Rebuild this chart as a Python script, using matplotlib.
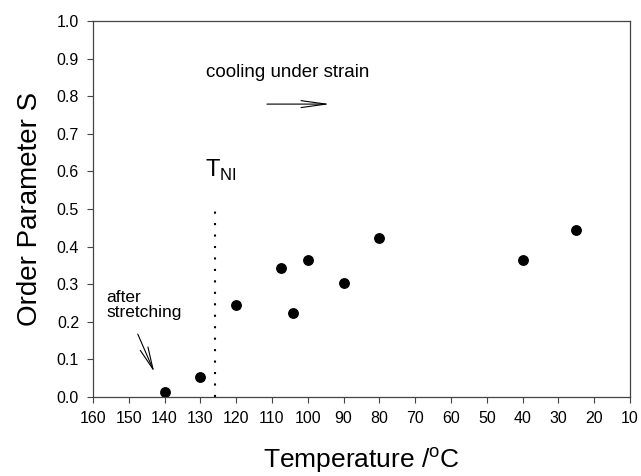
import matplotlib
matplotlib.use("Agg")
import matplotlib.pyplot as plt

plt.rcParams['font.family'] = ['Liberation Sans', 'DejaVu Sans']

temperature = [140, 130, 120, 107.5, 104, 100, 90, 80, 40, 25]
order_param = [0.013, 0.053, 0.245, 0.344, 0.224, 0.364, 0.304, 0.424, 0.364, 0.443]
t_ni = 126
x_ticks = list(range(160, 9, -10))
y_ticks = [round(0.1 * i, 1) for i in range(11)]

fig = plt.figure(figsize=(6.41, 4.76), dpi=100)
ax = fig.add_axes([93 / 641, 1 - 397 / 476, 537 / 641, 376 / 476])

ax.plot(temperature, order_param, 'o', color='black', markersize=6.8)
ax.plot([t_ni, t_ni], [0, 0.516], color='black', linestyle=(0, (1, 4.5)), linewidth=1.5)

ax.set_xlim(160, 10)
ax.set_ylim(0, 1.0)
ax.set_xticks(x_ticks)
ax.set_xticklabels([str(t) for t in x_ticks])
ax.set_yticks(y_ticks)
ax.set_yticklabels([f"{v:.1f}" for v in y_ticks])
ax.tick_params(direction='out', length=4, width=0.8, labelsize=11.5, pad=6, color='#444444')
for s in ax.spines.values():
    s.set_linewidth(0.9)
    s.set_color('#444444')

ax.set_xlabel('Temperature /$^\\mathregular{o}$C', fontsize=19, labelpad=14)
ax.set_ylabel('Order Parameter S', fontsize=20, labelpad=10)

ax.text(128.8, 0.603, r'T$_\mathregular{NI}$', fontsize=17, ha='left', va='center')
ax.text(128.5, 0.862, 'cooling under strain', fontsize=13.5, ha='left', va='center')
ax.annotate('', xy=(93.0, 0.779), xytext=(112.2, 0.779),
            arrowprops=dict(arrowstyle='->,head_length=1.8,head_width=0.25', color='black', lw=0.8))
ax.text(156.3, 0.245, 'after\nstretching', fontsize=12.5, ha='left', va='center', linespacing=1.05)
ax.annotate('', xy=(142.6, 0.06), xytext=(147.8, 0.174),
            arrowprops=dict(arrowstyle='->,head_length=1.6,head_width=0.3', color='black', lw=0.8))

fig.savefig('out.png', dpi=100)
